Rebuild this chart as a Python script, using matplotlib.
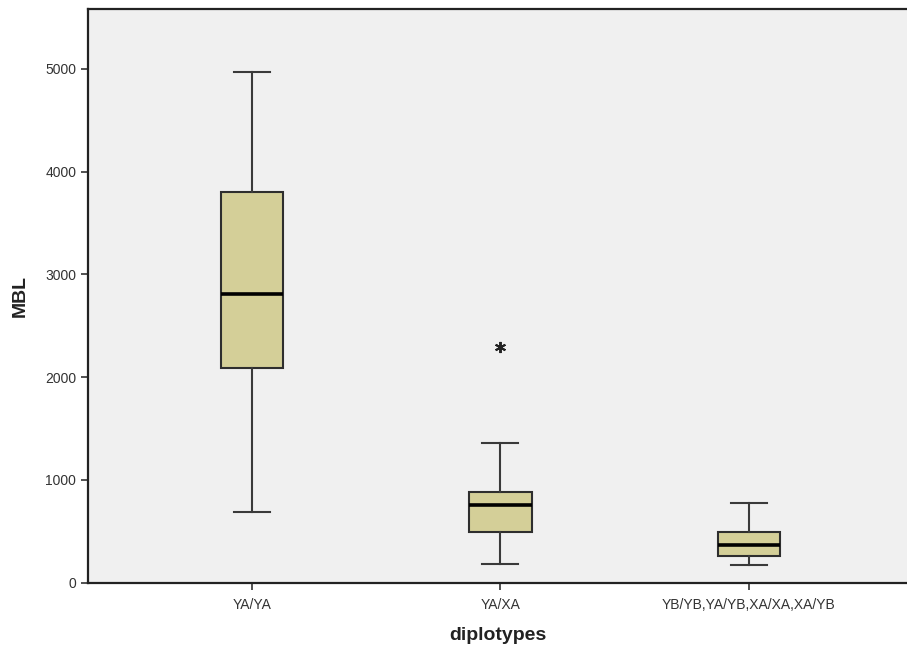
"""SPSS-style boxplot of MBL by diplotype."""
import matplotlib
matplotlib.use('Agg')
import matplotlib.pyplot as plt

plt.rcParams['font.family'] = ['Liberation Sans', 'DejaVu Sans']

categories = ['YA/YA', 'YA/XA', 'YB/YB,YA/YB,XA/XA,XA/YB']
whisker_low = [684, 177, 172]
q1 = [2086, 489, 260]
median = [2806, 755, 367]
q3 = [3800, 878, 495]
whisker_high = [4970, 1361, 773]
outliers = [[], [2296], []]
y_ticks = [0, 1000, 2000, 3000, 4000, 5000]

stats = []
for i, name in enumerate(categories):
    stats.append(dict(label=name, whislo=whisker_low[i], q1=q1[i], med=median[i],
                      q3=q3[i], whishi=whisker_high[i], fliers=outliers[i]))

fig = plt.figure(figsize=(9.07, 6.54), dpi=100)
ax = fig.add_axes([88 / 907, 71.5 / 654, 819 / 907, 573.5 / 654])
ax.set_facecolor('#f0f0f0')

line_c = '#3a3a3a'
ax.bxp(stats, positions=range(len(categories)), widths=0.253, patch_artist=True,
       boxprops=dict(facecolor='#d4cf98', edgecolor='#2e2e2e', linewidth=1.5),
       whiskerprops=dict(color=line_c, linewidth=1.5),
       capprops=dict(color=line_c, linewidth=1.5),
       medianprops=dict(color='black', linewidth=2.6),
       flierprops=dict(marker=(6, 2, 0), markersize=8, markeredgewidth=1.4,
                       markeredgecolor='#222222', linestyle='none'),
       capwidths=0.145)

ax.set_xlim(-0.66, 2.636)
ax.set_ylim(0, 5584)
ax.set_yticks(y_ticks)
ax.set_yticklabels([str(t) for t in y_ticks])
ax.tick_params(axis='both', direction='out', length=5, width=1.2,
               colors='#333333', labelsize=10, labelcolor='#333333')
ax.tick_params(axis='x', pad=6)
for spine in ax.spines.values():
    spine.set_color('#222222')
    spine.set_linewidth(1.6)
ax.spines['right'].set_visible(False)

ax.set_ylabel('MBL', fontsize=14, fontweight='bold', color='#222222', labelpad=12)
ax.set_xlabel('diplotypes', fontsize=14, fontweight='bold', color='#222222', labelpad=11)

fig.savefig('out.png', dpi=100, facecolor='white')
plt.close(fig)
